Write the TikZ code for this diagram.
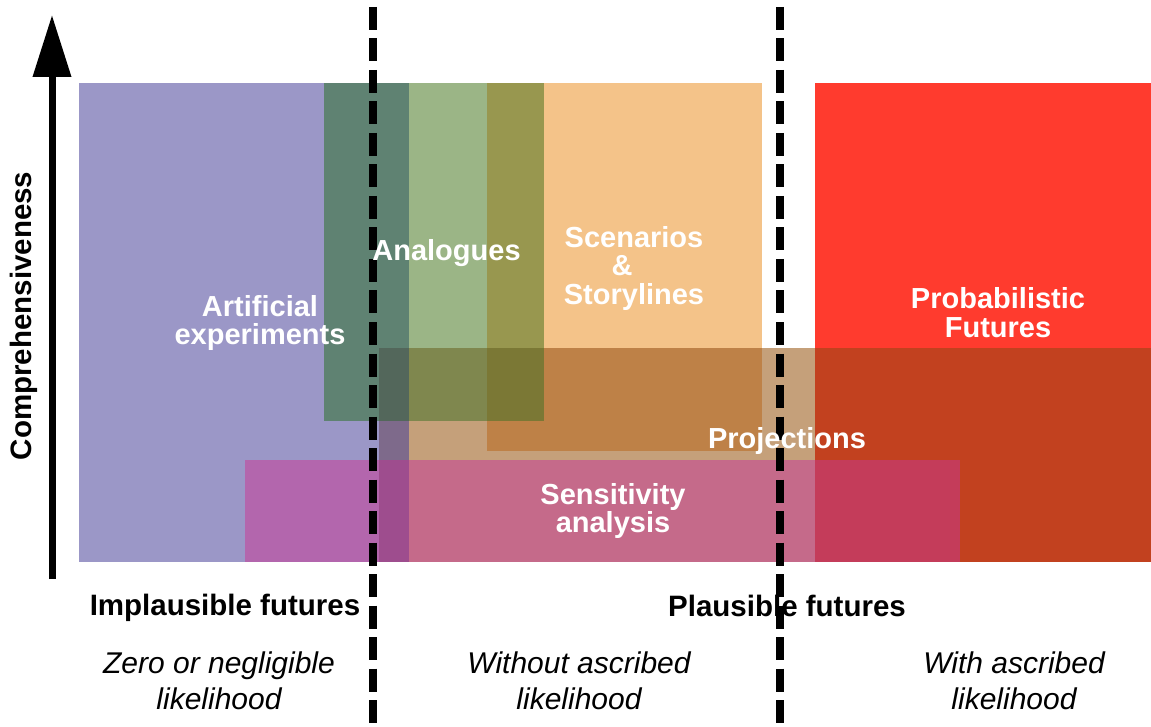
\documentclass[tikz,border=0pt]{standalone}
\usepackage{fontspec}
\setmainfont{Liberation Sans}
\usetikzlibrary{arrows.meta}
% single regions
\definecolor{cP}{HTML}{9B97C7}
\definecolor{cG}{HTML}{9BB586}
\definecolor{cO}{HTML}{F4C389}
\definecolor{cR}{HTML}{FF3B2E}
\definecolor{cJ}{HTML}{C5A07A}
% overlaps
\definecolor{cPG}{HTML}{5F8272}
\definecolor{cGO}{HTML}{98974F}
\definecolor{cPJ}{HTML}{7E6A8B}
\definecolor{cGJ}{HTML}{7F874E}
\definecolor{cOJ}{HTML}{BE8147}
\definecolor{cRJ}{HTML}{C2411F}
\definecolor{cPS}{HTML}{B366AD}
\definecolor{cJS}{HTML}{C56A8A}
\definecolor{cPGJ}{HTML}{53675B}
\definecolor{cGOJ}{HTML}{7B7835}
\definecolor{cPJS}{HTML}{9E4D8E}
\definecolor{cRJS}{HTML}{C43C5A}
\begin{document}
\begin{tikzpicture}[x=1pt,y=-1pt,
  lab/.style={text=white,font=\fontsize{29}{28.5}\selectfont\bfseries,align=center,inner sep=0pt},
  head/.style={font=\fontsize{29.5}{30}\selectfont\bfseries,inner sep=0pt},
  note/.style={font=\fontsize{30}{36}\selectfont\itshape,align=center,inner sep=0pt},
  divider/.style={line width=7.5pt,dash pattern=on 23pt off 8.5pt},
  axis/.style={line width=7pt,-{Triangle[width=37pt,length=62pt]}}]
\useasboundingbox (0,0) rectangle (1151,727);
% base rectangles
\fill[cP] (79,83) rectangle (409,562);
\fill[cG] (324,83) rectangle (544,421);
\fill[cO] (487,83) rectangle (762,451);
\fill[cR] (815,83) rectangle (1151,562);
\fill[cJ] (379,348) rectangle (1151,562);
% pairwise overlaps
\fill[cPG] (324,83) rectangle (409,421);
\fill[cGO] (487,83) rectangle (544,421);
\fill[cPJ] (379,348) rectangle (409,562);
\fill[cGJ] (379,348) rectangle (544,421);
\fill[cOJ] (487,348) rectangle (762,451);
\fill[cRJ] (815,348) rectangle (1151,562);
\fill[cPS] (245,460) rectangle (409,562);
\fill[cJS] (379,460) rectangle (960,562);
% triple overlaps
\fill[cPGJ] (379,348) rectangle (409,421);
\fill[cGOJ] (487,348) rectangle (544,421);
\fill[cPJS] (379,460) rectangle (409,562);
\fill[cRJS] (815,460) rectangle (960,562);
% axis
\coordinate (axbot) at (52,579);
\coordinate (axtop) at (52,15);
\draw[axis] (axbot) -- (axtop);
\node[head,rotate=90] (comp) at (24,316) {Comprehensiveness};
% dividers
\coordinate (d1top) at (373,7);
\coordinate (d1bot) at (373,727);
\coordinate (d2top) at (780,7);
\coordinate (d2bot) at (780,727);
\draw[divider] (d1top) -- (d1bot);
\draw[divider] (d2top) -- (d2bot);
% region labels
\node[lab] (art) at (260,323) {Artificial\\experiments};
\node[lab] (ana) at (446.5,253) {Analogues};
\node[lab] (scen) at (634,268.5) {Scenarios\\\&\phantom{\rule{24pt}{1pt}}\\Storylines};
\node[lab] (prob) at (998,312.5) {Probabilistic\\Futures};
\node[lab] (proj) at (787,441) {Projections};
\node[lab] (sens) at (613,511) {Sensitivity\\analysis};
% bottom labels
\node[head] (impl) at (225,608) {Implausible futures};
\node[head] (plaus) at (787,606) {Plausible futures};
\node[note] (zero) at (219,681) {Zero or negligible\\likelihood};
\node[note] (without) at (579,681) {Without ascribed\\likelihood};
\node[note] (with) at (1014,681) {With ascribed\\likelihood};
\end{tikzpicture}
\end{document}
